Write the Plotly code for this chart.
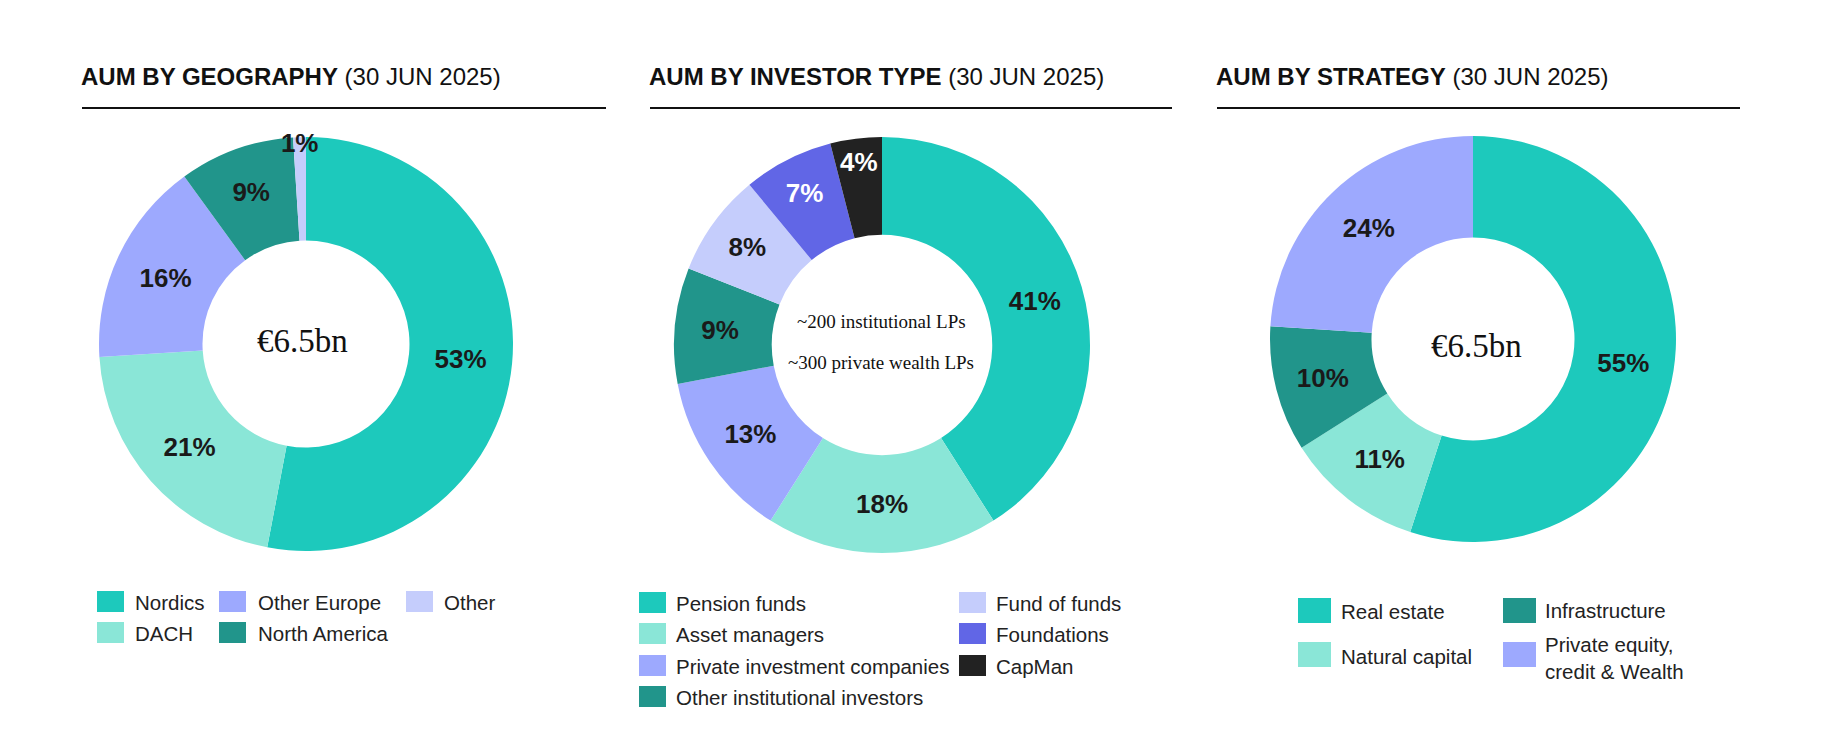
import plotly.graph_objects as go

# ---------------- data ----------------
geo_labels = ["Nordics", "DACH", "Other Europe", "North America", "Other"]
geo_values = [53, 21, 16, 9, 1]

investor_labels = ["Pension funds", "Asset managers", "Private investment companies",
                   "Other institutional investors", "Fund of funds", "Foundations", "CapMan"]
investor_values = [41, 18, 13, 9, 8, 7, 4]

strategy_labels = ["Real estate", "Natural capital", "Infrastructure",
                   "Private equity,<br>credit & Wealth"]
strategy_values = [55, 11, 10, 24]

titles = ["AUM BY GEOGRAPHY", "AUM BY INVESTOR TYPE", "AUM BY STRATEGY"]
title_date = " (30 JUN 2025)"
center_geo = "€6.5bn"
center_investor = ["~200 institutional LPs", "~300 private wealth LPs"]
center_strategy = "€6.5bn"

# ---------------- styles ----------------
TEAL = "#1DC9BC"
MINT = "#8AE6D7"
PERI = "#9DA9FE"
DTEAL = "#21958B"
LAV = "#C5CDFC"
BLUE = "#6166E6"
BLACK = "#222222"

geo_colors = [TEAL, MINT, PERI, DTEAL, LAV]
investor_colors = [TEAL, MINT, PERI, DTEAL, LAV, BLUE, BLACK]
strategy_colors = [TEAL, MINT, DTEAL, PERI]

W, H = 1824, 742
OFF = 8  # default page body margin
SANS = "Liberation Sans, Arial, sans-serif"
SERIF = "Liberation Serif, Times New Roman, serif"


def px(x):
    return (x - OFF) / W


def py(y):
    return 1 - (y - OFF) / H


def dom(cx, cy, r):
    return dict(x=[px(cx - r), px(cx + r)], y=[py(cy + r), py(cy - r)])


def text_colors(colors):
    return ["#FFFFFF" if c in (BLUE, BLACK) else "#1A1A1A" for c in colors]


fig = go.Figure()

pie_geo = (306, 344, 207)
pie_inv = (882, 345, 208)
pie_str = (1473, 339, 203)

pies = [
    (geo_labels, geo_values, geo_colors, dom(*pie_geo), 0.5),
    (investor_labels, investor_values, investor_colors, dom(*pie_inv), 0.53),
    (strategy_labels, strategy_values, strategy_colors, dom(*pie_str), 0.5),
]
for labels, values, colors, domain, hole in pies:
    fig.add_trace(go.Pie(
        labels=labels, values=values, sort=False, direction="clockwise", rotation=0,
        hole=hole, domain=domain,
        marker=dict(colors=colors, line=dict(width=0)),
        texttemplate="%{value}%", textposition="inside",
        insidetextorientation="horizontal",
        insidetextfont=dict(family=SANS, size=26, color=text_colors(colors), weight="bold"),
        showlegend=False, hoverinfo="label+percent",
    ))

annotations = []
shapes = []

# titles and rules
title_x = [79, 647, 1214]
rule_x = [(82, 606), (650, 1172), (1217, 1740)]
for t, tx, (x0, x1) in zip(titles, title_x, rule_x):
    annotations.append(dict(
        text=f"<b>{t}</b>{title_date}", x=px(tx), y=py(76), xref="paper", yref="paper",
        xanchor="left", yanchor="middle", showarrow=False,
        font=dict(family=SANS, size=24, color="#111111")))
    shapes.append(dict(type="line", xref="paper", yref="paper",
                       x0=px(x0), x1=px(x1), y0=py(108), y1=py(108),
                       line=dict(color="#111111", width=2)))

# centre texts
annotations.append(dict(text=center_geo, x=px(pie_geo[0] - 4), y=py(pie_geo[1] - 3),
                        xref="paper", yref="paper", xanchor="center", yanchor="middle",
                        showarrow=False, font=dict(family=SERIF, size=33, color="#111111")))
annotations.append(dict(text=center_strategy, x=px(pie_str[0] + 3), y=py(pie_str[1] + 7),
                        xref="paper", yref="paper", xanchor="center", yanchor="middle",
                        showarrow=False, font=dict(family=SERIF, size=33, color="#111111")))
for t, yy in zip(center_investor, [321, 362]):
    annotations.append(dict(text=t, x=px(pie_inv[0] - 1), y=py(yy), xref="paper", yref="paper",
                            xanchor="center", yanchor="middle",
                            showarrow=False, font=dict(family=SERIF, size=19, color="#111111")))


# legends
def legend_item(label, color, sx, sy, sw, sh, tx, ty):
    shapes.append(dict(type="rect", xref="paper", yref="paper",
                       x0=px(sx), x1=px(sx + sw), y0=py(sy + sh), y1=py(sy),
                       fillcolor=color, line=dict(width=0)))
    annotations.append(dict(text=label, x=px(tx), y=py(ty), xref="paper", yref="paper",
                            xanchor="left", yanchor="middle", align="left", showarrow=False,
                            font=dict(family=SANS, size=20.5, color="#222222")))


# geography: column-major, 2 rows
geo_cols = [(97, 133), (219, 256), (406, 442)]
geo_rows = [591, 622]
for i, (lab, col) in enumerate(zip(geo_labels, geo_colors)):
    c, r = divmod(i, 2)
    sx, tx = geo_cols[c]
    legend_item(lab, col, sx, geo_rows[r], 27, 21, tx, geo_rows[r] + 11)

# investor: 4 rows first column, 3 rows second
inv_cols = [(639, 674), (959, 994)]
inv_rows = [592, 623, 655, 686]
for i, (lab, col) in enumerate(zip(investor_labels, investor_colors)):
    c, r = (0, i) if i < 4 else (1, i - 4)
    sx, tx = inv_cols[c]
    legend_item(lab, col, sx, inv_rows[r], 27, 21, tx, inv_rows[r] + 11)

# strategy: 2x2 column-major
str_cols = [(1298, 1339), (1503, 1543)]
str_rows = [598, 642]
str_text_y = [[611, 656], [610, 658]]
for i, (lab, col) in enumerate(zip(strategy_labels, strategy_colors)):
    c, r = divmod(i, 2)
    sx, tx = str_cols[c]
    legend_item(lab, col, sx, str_rows[r], 33, 25, tx, str_text_y[c][r])

fig.update_layout(
    width=W, height=H, margin=dict(l=0, r=0, t=0, b=0),
    paper_bgcolor="white", plot_bgcolor="white",
    annotations=annotations, shapes=shapes,
    uniformtext=dict(minsize=26, mode="show"),
)

fig.write_html("out.html")
